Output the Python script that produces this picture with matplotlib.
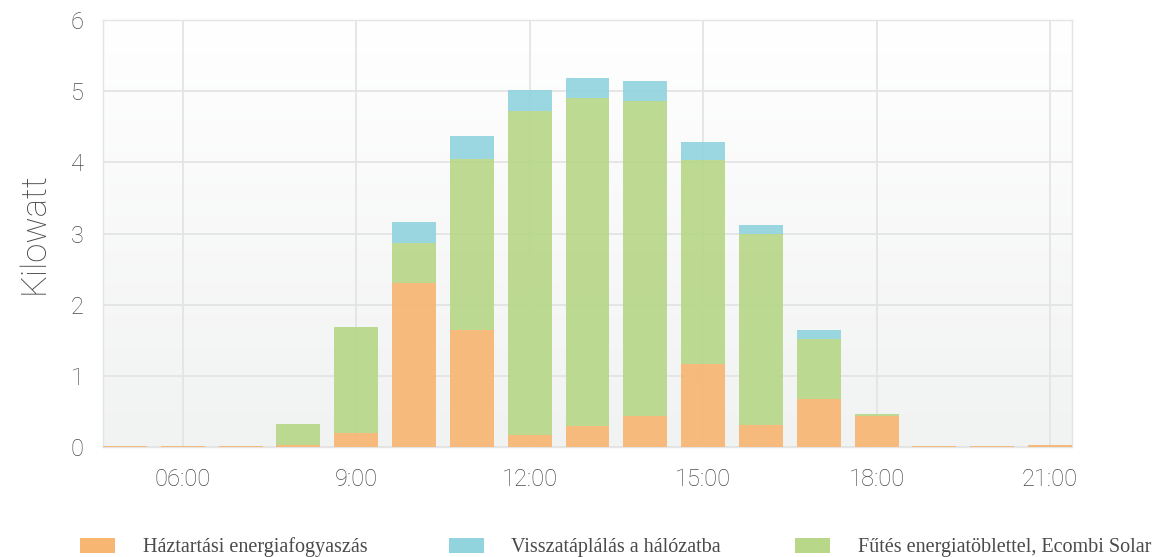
import matplotlib
matplotlib.use("Agg")
import matplotlib.pyplot as plt
import numpy as np
from matplotlib.patches import Rectangle
from matplotlib.colors import LinearSegmentedColormap

hours = [5, 6, 7, 8, 9, 10, 11, 12, 13, 14, 15, 16, 17, 18, 19, 20, 21]
household = [0.02, 0.02, 0.02, 0.03, 0.19, 2.30, 1.65, 0.17, 0.30, 0.43, 1.17, 0.31, 0.68, 0.44, 0.02, 0.02, 0.03]
heating = [0, 0, 0, 0.29, 1.50, 0.565, 2.40, 4.55, 4.61, 4.425, 2.86, 2.69, 0.84, 0.02, 0, 0, 0]
feedin = [0, 0, 0, 0, 0, 0.295, 0.32, 0.30, 0.28, 0.285, 0.25, 0.12, 0.12, 0, 0, 0, 0]
tick_pos = [6, 9, 12, 15, 18, 21]
tick_labels = ["06:00", "9:00", "12:00", "15:00", "18:00", "21:00"]
labels = ["Háztartási energiafogyaszás", "Visszatáplálás a hálózatba", "Fűtés energiatöblettel, Ecombi Solar"]

c_orange = "#F7B672"
c_blue = "#92D4DE"
c_green = "#B8D789"
colors = [c_orange, c_blue, c_green]

W, H = 1171, 557
fig = plt.figure(figsize=(W / 100, H / 100), dpi=100)
ax = fig.add_axes([103 / W, 1 - 447 / H, (1072 - 103) / W, (447 - 20) / H])

grad = np.linspace(0, 1, 256).reshape(-1, 1)
cmap = LinearSegmentedColormap.from_list("bg", ["#F1F2F2", "#FFFFFF"])
ax.imshow(grad, extent=[4.62, 21.38, 0, 6], origin="lower", aspect="auto", cmap=cmap, zorder=0)

x = np.array(hours)
hh = np.array(household)
ht = np.array(heating)
fb = np.array(feedin)
w = 0.76
ek = dict(linewidth=0, alpha=0.92, zorder=3)
ax.bar(x, hh, width=w, color=c_orange, **ek)
ax.bar(x, ht, width=w, bottom=hh, color=c_green, **ek)
ax.bar(x, fb, width=w, bottom=hh + ht, color=c_blue, **ek)

ax.set_xlim(4.62, 21.38)
ax.set_ylim(0, 6)
ax.set_yticks(range(0, 7))
ax.set_xticks(tick_pos)
ax.set_xticklabels(tick_labels)
ax.grid(True, color="#E4E4E4", linewidth=1.3, zorder=1)
ax.set_axisbelow(True)
for s in ax.spines.values():
    s.set_color("#E4E4E4")
    s.set_linewidth(1.0)
ax.tick_params(length=0, labelsize=17, labelcolor="#4a4a4a")
ax.tick_params(axis="x", pad=15)
ax.tick_params(axis="y", pad=14)
for t in ax.get_xticklabels() + ax.get_yticklabels():
    t.set_family("Roboto")
    t.set_fontweight("light")
ax.set_ylabel("Kilowatt", fontsize=25, color="#4a4a4a", family="Roboto", fontweight="light", labelpad=14)

# legend
sq_x = [80, 449, 795]
tx_x = [143, 511, 858]
for sx, tx, col, lab in zip(sq_x, tx_x, colors, labels):
    fig.patches.append(Rectangle((sx / W, 1 - 553 / H), 35 / W, 15 / H, transform=fig.transFigure,
                                 facecolor=col, edgecolor="none"))
    fig.text(tx / W, 1 - 552 / H, lab, family="Liberation Serif", fontsize=14.5, color="#4a4a4a",
             ha="left", va="baseline")

fig.savefig("out.png", dpi=100)
